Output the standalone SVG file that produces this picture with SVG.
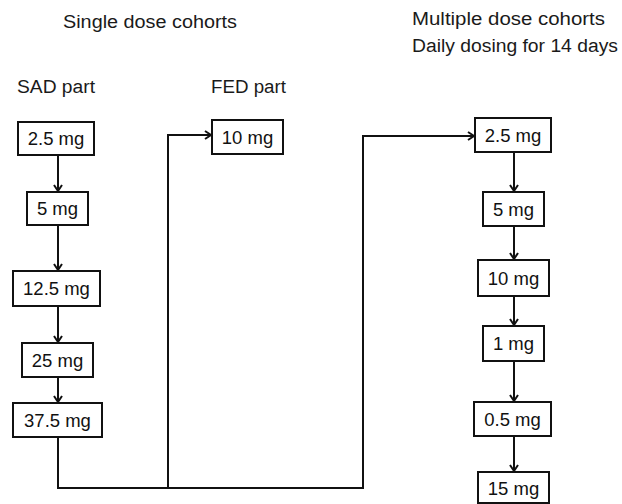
<svg xmlns="http://www.w3.org/2000/svg" width="622" height="504" viewBox="0 0 622 504">
<style>
.t{font-family:"Liberation Sans",Arial,sans-serif;font-size:18px;fill:#1a1a1a}
.b rect{fill:#fff;stroke:#111;stroke-width:2}
.b text{font-family:"Liberation Sans",Arial,sans-serif;font-size:18.5px;fill:#111;text-anchor:middle}
.c path{fill:none;stroke:#111;stroke-width:2}
</style>
<defs>
<marker id="ah" markerWidth="10" markerHeight="10" refX="8" refY="5" orient="auto" markerUnits="userSpaceOnUse">
<polyline points="2,1 8,5 2,9" fill="none" stroke="#111" stroke-width="2"/>
</marker>
</defs>
<rect width="622" height="504" fill="#fff"/>
<text class="t" x="63" y="28" textLength="174" lengthAdjust="spacingAndGlyphs">Single dose cohorts</text>
<text class="t" x="412" y="25" textLength="193" lengthAdjust="spacingAndGlyphs">Multiple dose cohorts</text>
<text class="t" x="412" y="52" textLength="206" lengthAdjust="spacingAndGlyphs">Daily dosing for 14 days</text>
<text class="t" x="17" y="93" textLength="78" lengthAdjust="spacingAndGlyphs">SAD part</text>
<text class="t" x="211" y="93" textLength="75" lengthAdjust="spacingAndGlyphs">FED part</text>
<g class="c">
<path d="M58,155 V191" marker-end="url(#ah)"/>
<path d="M58,225 V270" marker-end="url(#ah)"/>
<path d="M58,306 V342" marker-end="url(#ah)"/>
<path d="M58,377 V402" marker-end="url(#ah)"/>
<path d="M58,437 V488 H363 V136 H474" marker-end="url(#ah)"/>
<path d="M168,488 V135 H211" marker-end="url(#ah)"/>
<path d="M514,152 V191" marker-end="url(#ah)"/>
<path d="M514,226 V259" marker-end="url(#ah)"/>
<path d="M514,296 V325" marker-end="url(#ah)"/>
<path d="M514,361 V401" marker-end="url(#ah)"/>
<path d="M514,436 V471" marker-end="url(#ah)"/>
</g>
<g id="sad1" class="b"><rect x="18" y="122" width="76" height="33"/><text x="56" y="145">2.5 mg</text></g>
<g id="sad2" class="b"><rect x="27" y="192" width="61" height="33"/><text x="57.5" y="215">5 mg</text></g>
<g id="sad3" class="b"><rect x="13" y="271" width="87" height="35"/><text x="56.5" y="295">12.5 mg</text></g>
<g id="sad4" class="b"><rect x="22" y="343" width="71" height="34"/><text x="57.5" y="367">25 mg</text></g>
<g id="sad5" class="b"><rect x="13" y="403" width="89" height="34"/><text x="57.5" y="427">37.5 mg</text></g>
<g id="fed1" class="b"><rect x="212" y="120" width="71" height="34"/><text x="247.5" y="144">10 mg</text></g>
<g id="mad1" class="b"><rect x="475" y="118" width="76" height="34"/><text x="513" y="142">2.5 mg</text></g>
<g id="mad2" class="b"><rect x="483" y="192" width="61" height="34"/><text x="513.5" y="216">5 mg</text></g>
<g id="mad3" class="b"><rect x="478" y="260" width="71" height="36"/><text x="513.5" y="285">10 mg</text></g>
<g id="mad4" class="b"><rect x="483" y="326" width="61" height="35"/><text x="513.5" y="350">1 mg</text></g>
<g id="mad5" class="b"><rect x="474" y="402" width="77" height="34"/><text x="512.5" y="426">0.5 mg</text></g>
<g id="mad6" class="b"><rect x="478" y="472" width="71" height="31"/><text x="513.5" y="495">15 mg</text></g>
</svg>
